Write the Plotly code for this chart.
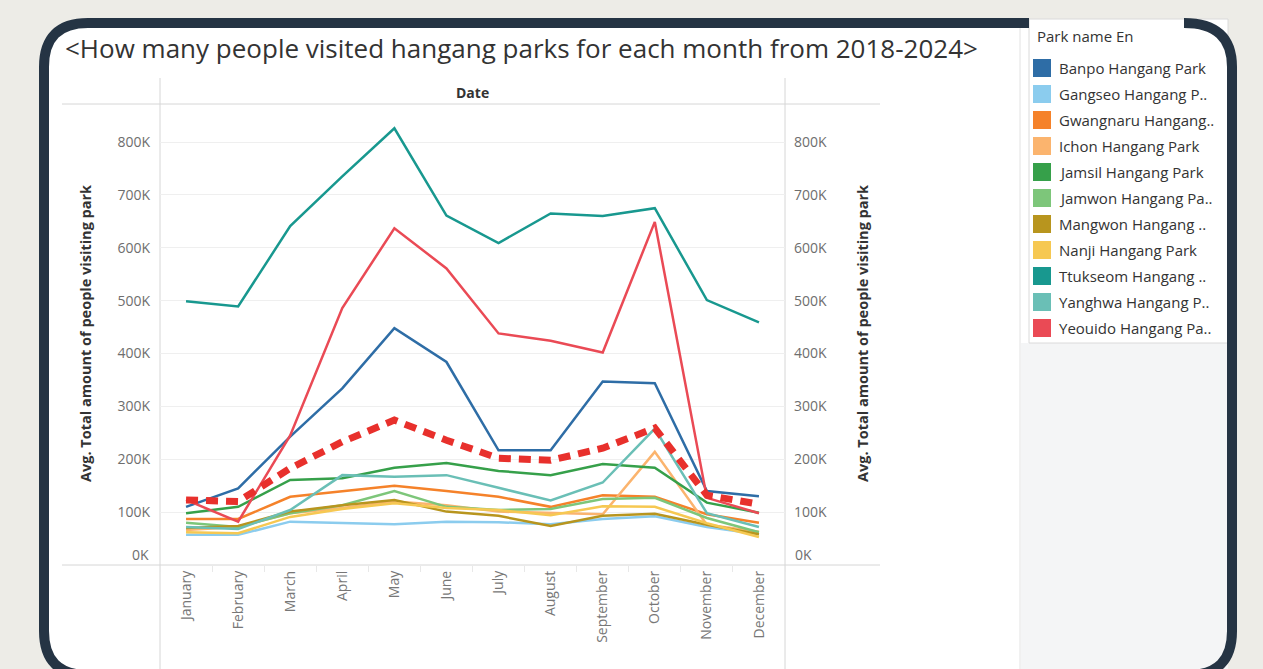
import plotly.graph_objects as go

W, H = 1263, 669

months = ["January", "February", "March", "April", "May", "June", "July",
          "August", "September", "October", "November", "December"]

# values in thousands of visitors (Avg. Total amount of people visiting park)
banpo     = [110, 145, 243, 334, 448, 384, 217, 217, 347, 344, 140, 130]
gangseo   = [57, 57, 82, 79, 77, 82, 81, 77, 87, 92, 72, 58]
gwangnaru = [87, 87, 129, 140, 150, 140, 129, 110, 132, 129, 96, 80]
ichon     = [66, 72, 98, 108, 120, 113, 101, 98, 96, 214, 76, 63]
jamsil    = [98, 110, 161, 164, 184, 193, 178, 170, 191, 184, 118, 99]
jamwon    = [80, 72, 98, 113, 140, 110, 104, 106, 125, 127, 89, 62]
mangwon   = [70, 74, 101, 113, 123, 101, 93, 74, 93, 97, 76, 58]
nanji     = [62, 60, 91, 106, 117, 108, 104, 94, 111, 110, 79, 53]
ttukseom  = [499, 489, 641, 735, 826, 661, 609, 665, 660, 675, 501, 459]
yanghwa   = [72, 68, 104, 170, 167, 170, 146, 122, 156, 258, 98, 72]
yeouido   = [123, 82, 245, 486, 637, 561, 438, 424, 402, 649, 127, 98]
average   = [123, 120, 183, 233, 274, 236, 202, 198, 221, 259, 132, 115]

park_names = ["Banpo Hangang Park", "Gangseo Hangang P..", "Gwangnaru Hangang..",
              "Ichon Hangang Park", "Jamsil Hangang Park", "Jamwon Hangang Pa..",
              "Mangwon Hangang ..", "Nanji Hangang Park", "Ttukseom Hangang ..",
              "Yanghwa Hangang P..", "Yeouido Hangang Pa.."]
park_values = [banpo, gangseo, gwangnaru, ichon, jamsil, jamwon,
               mangwon, nanji, ttukseom, yanghwa, yeouido]
park_colors = ["#2E6DA6", "#8BCCEE", "#F5822A", "#FBB46E", "#36A04A", "#7DC67A",
               "#B8951E", "#F6C852", "#18988F", "#6ABFB6", "#EA4A55"]

y_ticks = [100, 200, 300, 400, 500, 600, 700, 800]
y_ticktext = ["100K", "200K", "300K", "400K", "500K", "600K", "700K", "800K"]

FONT = "Open Sans"
BEIGE = "#EDECE7"
NAVY = "#253444"
GRID = "#D6D6D6"


def px(x):
    return x / W


def py(y):
    return 1 - y / H


def pt(x, y):
    return f"{px(x):.5f},{py(y):.5f}"


fig = go.Figure()

# lines per park
for name, vals, col in zip(park_names, park_values, park_colors):
    fig.add_trace(go.Scatter(
        x=months, y=[v * 1000 for v in vals], mode="lines", name=name,
        line=dict(color=col, width=2.5), showlegend=False))

# dashed average line
fig.add_trace(go.Scatter(
    x=months, y=[v * 1000 for v in average], mode="lines", name="Average",
    line=dict(color="#E8302C", width=7, dash="12px,8px"), showlegend=False))

# invisible trace to activate right axis
fig.add_trace(go.Scatter(
    x=months, y=[v * 1000 for v in average], mode="lines", yaxis="y2",
    line=dict(color="rgba(0,0,0,0)", width=0), showlegend=False, hoverinfo="skip"))

shapes = []
# frame fill
frame_pts = ("M " + pt(88, 23) + " L " + pt(1188, 23) + " Q " + pt(1232, 23) + " " + pt(1232, 67)
             + " L " + pt(1232, 631) + " Q " + pt(1232, 675) + " " + pt(1188, 675)
             + " L " + pt(88, 675) + " Q " + pt(44, 675) + " " + pt(44, 631)
             + " L " + pt(44, 67) + " Q " + pt(44, 23) + " " + pt(88, 23) + " Z")
shapes.append(dict(type="path", xref="paper", yref="paper", path=frame_pts,
                   fillcolor="white", line=dict(width=0), layer="below"))
# grey area under legend
shapes.append(dict(type="rect", xref="paper", yref="paper",
                   x0=px(1021), x1=px(1228), y0=py(343), y1=py(669),
                   fillcolor="#F4F5F6", line=dict(width=0), layer="below"))
# legend panel
shapes.append(dict(type="rect", xref="paper", yref="paper",
                   x0=px(1029), x1=px(1228), y0=py(343), y1=py(19),
                   fillcolor="white", line=dict(color="#DADADA", width=1), layer="below"))
# divider
shapes.append(dict(type="line", xref="paper", yref="paper",
                   x0=px(1020), x1=px(1020), y0=py(28), y1=py(669),
                   line=dict(color="#E2E2E2", width=1), layer="below"))
# frame outline (gap where legend panel covers it)
frame_line = ("M " + pt(1029, 23) + " L " + pt(88, 23) + " Q " + pt(44, 23) + " " + pt(44, 67)
              + " L " + pt(44, 631) + " Q " + pt(44, 675) + " " + pt(88, 675)
              + " L " + pt(1188, 675) + " Q " + pt(1232, 675) + " " + pt(1232, 631)
              + " L " + pt(1232, 67) + " Q " + pt(1232, 23) + " " + pt(1184, 23))
shapes.append(dict(type="path", xref="paper", yref="paper", path=frame_line,
                   line=dict(color=NAVY, width=10), layer="above"))
# table lines
shapes.append(dict(type="line", xref="paper", yref="paper",
                   x0=px(62), x1=px(880), y0=py(104), y1=py(104),
                   line=dict(color=GRID, width=1), layer="below"))
shapes.append(dict(type="line", xref="paper", yref="paper",
                   x0=px(62), x1=px(880), y0=py(565), y1=py(565),
                   line=dict(color=GRID, width=1), layer="below"))
for xv in (160, 785):
    shapes.append(dict(type="line", xref="paper", yref="paper",
                       x0=px(xv), x1=px(xv), y0=py(78), y1=py(669),
                       line=dict(color=GRID, width=1), layer="below"))

# legend swatches
for i, col in enumerate(park_colors):
    yc = 68 + 26 * i
    shapes.append(dict(type="rect", xref="paper", yref="paper",
                       x0=px(1033), x1=px(1051), y0=py(yc + 9), y1=py(yc - 9),
                       fillcolor=col, line=dict(width=0), layer="above"))

annotations = []
annotations.append(dict(xref="paper", yref="paper", x=px(63), y=py(48),
                        text="&lt;How many people visited hangang parks for each month from 2018-2024&gt;",
                        showarrow=False, xanchor="left", yanchor="middle",
                        font=dict(family=FONT, size=26, color="#333333")))
annotations.append(dict(xref="paper", yref="paper", x=px(472), y=py(92), text="Date",
                        showarrow=False, xanchor="center", yanchor="middle",
                        font=dict(family=FONT, size=14, color="#333333", weight="bold")))
ytitle = "Avg. Total amount of people visiting park"
for xv in (85, 862):
    annotations.append(dict(xref="paper", yref="paper", x=px(xv), y=py(334), text=ytitle,
                            showarrow=False, textangle=-90, xanchor="center", yanchor="middle",
                            font=dict(family=FONT, size=14.5, color="#333333", weight="bold")))
# 0K labels (shifted up to stay inside the pane)
annotations.append(dict(xref="paper", yref="paper", x=px(151), y=py(554), text="0K",
                        showarrow=False, xanchor="right", yanchor="middle",
                        font=dict(family=FONT, size=14, color="#6E6E6E")))
annotations.append(dict(xref="paper", yref="paper", x=px(793), y=py(554), text="0K",
                        showarrow=False, xanchor="left", yanchor="middle",
                        font=dict(family=FONT, size=14, color="#6E6E6E")))
# legend texts
annotations.append(dict(xref="paper", yref="paper", x=px(1035), y=py(36), text="Park name En",
                        showarrow=False, xanchor="left", yanchor="middle",
                        font=dict(family=FONT, size=15, color="#333333")))
for i, name in enumerate(park_names):
    yc = 68 + 26 * i
    annotations.append(dict(xref="paper", yref="paper", x=px(1057), y=py(yc), text=name,
                            showarrow=False, xanchor="left", yanchor="middle",
                            font=dict(family=FONT, size=15, color="#333333")))

yrange = [0, 872000]
fig.update_layout(
    width=W, height=H,
    margin=dict(l=0, r=0, t=0, b=0),
    paper_bgcolor=BEIGE,
    plot_bgcolor="rgba(0,0,0,0)",
    showlegend=False,
    font=dict(family=FONT),
    shapes=shapes,
    annotations=annotations,
    xaxis=dict(domain=[px(160), px(785)], type="category", range=[-0.5, 11.5],
               tickangle=-90, tickfont=dict(family=FONT, size=14, color="#777777"),
               showgrid=False, zeroline=False, showline=False,
               ticks="outside", tickson="boundaries", ticklen=6, tickcolor="#E8E8E8",
               ticklabelstandoff=2, anchor="y"),
    yaxis=dict(domain=[py(565), py(104)], range=yrange,
               tickvals=[v * 1000 for v in y_ticks], ticktext=y_ticktext,
               tickfont=dict(family=FONT, size=14, color="#6E6E6E"),
               showgrid=True, gridcolor="#EFEFEF", gridwidth=1,
               zeroline=False, showline=False, ticks="", ticklabelstandoff=9,
               anchor="x"),
    yaxis2=dict(domain=[py(565), py(104)], range=yrange, overlaying="y", side="right",
                tickvals=[v * 1000 for v in y_ticks], ticktext=y_ticktext,
                tickfont=dict(family=FONT, size=14, color="#6E6E6E"),
                showgrid=False, zeroline=False, showline=False, ticks="",
                ticklabelstandoff=8, anchor="x"),
)

fig.write_html("out.html", config={"displayModeBar": False},
               post_script="document.body.style.margin='0';document.body.style.overflow='hidden';")
